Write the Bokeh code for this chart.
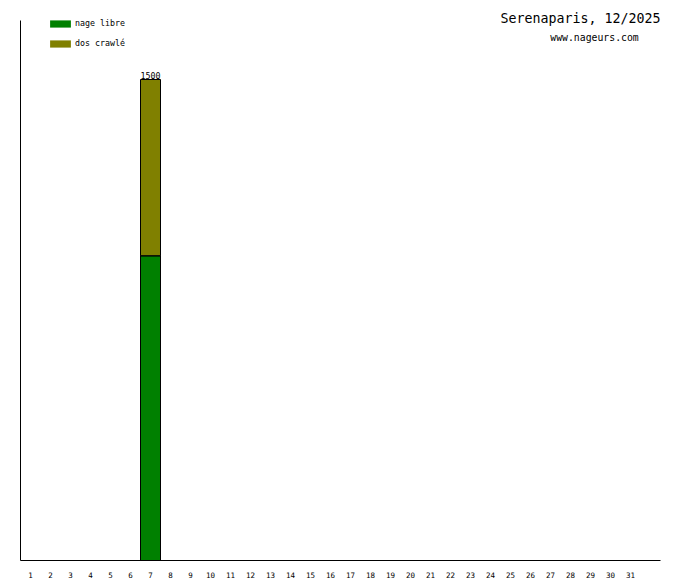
from bokeh.plotting import figure
from bokeh.models import (ColumnDataSource, Range1d, FixedTicker, Label, Legend,
                          LegendItem)
from bokeh.core.properties import value
from bokeh.embed import file_html
from bokeh.resources import INLINE

# ---- data ----
days = list(range(1, 32))
tick_labels = [str(d) for d in days]
nage_libre = [0] * 31
dos_crawle = [0] * 31
nage_libre[6] = 950
dos_crawle[6] = 550
series_names = ["nage libre", "dos crawlé"]
series_colors = ["#008000", "#808000"]
title_text = "Serenaparis, 12/2025"
subtitle_text = "www.nageurs.com"
y_max = 1684                     # value at the top end of the left axis
y_top = y_max * 560 / 540.0      # frame extends above the axis to the canvas top

totals = [a + b for a, b in zip(nage_libre, dos_crawle)]
idx = [i for i, t in enumerate(totals) if t > 0]
src = ColumnDataSource(dict(
    day=[days[i] for i in idx],
    nl=[nage_libre[i] for i in idx],
    dc=[dos_crawle[i] for i in idx],
    nl_top=[nage_libre[i] for i in idx],
    total=[totals[i] for i in idx],
    zero=[0 for i in idx],
    total_txt=[str(totals[i]) for i in idx],
))

FONT = "DejaVu Sans Mono"

p = figure(width=680, height=580, output_backend="svg", toolbar_location=None,
           x_range=Range1d(0.5, 32.5), y_range=Range1d(0, y_top),
           min_border_left=20, min_border_right=20, min_border_top=0,
           min_border_bottom=20)
p.outline_line_color = None
p.xgrid.visible = False
p.ygrid.visible = False
p.background_fill_color = "white"

# filled stacked bars (no outline, used for legend swatches)
rs = p.vbar_stack(["nl", "dc"], x="day", width=1.0, source=src,
                  fill_color=series_colors, line_color=None)
# black outlines of each stacked segment
p.vbar(x="day", bottom="zero", top="nl_top", width=1.0, source=src,
       fill_color=None, line_color="black", line_width=1)
p.vbar(x="day", bottom="nl_top", top="total", width=1.0, source=src,
       fill_color=None, line_color="black", line_width=1)

p.text(x="day", y="total", text="total_txt", source=src,
       text_font=value(FONT), text_font_size="8.3px", text_align="center",
       text_baseline="bottom", y_offset=-1)

# axes
p.xaxis.ticker = FixedTicker(ticks=days)
p.xaxis.major_label_overrides = {d: l for d, l in zip(days, tick_labels)}
p.xaxis.major_tick_line_color = None
p.xaxis.minor_tick_line_color = None
p.xaxis.major_tick_out = 0
p.xaxis.major_tick_in = 0
p.xaxis.major_label_standoff = 11
p.xaxis.major_label_text_align = "left"
p.xaxis.major_label_text_font = FONT
p.xaxis.major_label_text_font_size = "7.5px"
p.xaxis.major_label_text_color = "black"
p.xaxis.axis_line_color = "black"

p.yaxis.ticker = FixedTicker(ticks=[])
p.yaxis.bounds = (0, y_max)
p.yaxis.major_tick_line_color = None
p.yaxis.minor_tick_line_color = None
p.yaxis.major_tick_out = 0
p.yaxis.major_tick_in = 0
p.yaxis.major_label_standoff = 0
p.yaxis.axis_line_color = "black"

legend = Legend(items=[LegendItem(label=n, renderers=[r])
                       for n, r in zip(series_names, rs)],
                location=(27, 512), orientation="vertical",
                glyph_width=26, glyph_height=9, label_height=7,
                label_standoff=2, spacing=10, padding=0, margin=0,
                border_line_color=None, background_fill_alpha=0,
                label_text_font=FONT, label_text_font_size="8.3px",
                label_text_color="black", label_text_baseline="middle")
p.add_layout(legend)

# title texts (screen positions converted to data units)
def dy(sy):
    return (560 - sy) * y_max / 540.0

def dx(sx):
    return (sx - 20) / 20.0 + 0.5

p.add_layout(Label(x=dx(660), y=dy(17.5), text=title_text, text_align="right",
                   text_baseline="middle", text_font=FONT,
                   text_font_size="13.3px", text_color="black"))
p.add_layout(Label(x=dx(594), y=dy(37), text=subtitle_text, text_align="center",
                   text_baseline="middle", text_font=FONT,
                   text_font_size="9.8px", text_color="black"))

open("out.html", "w").write(file_html(p, INLINE))
